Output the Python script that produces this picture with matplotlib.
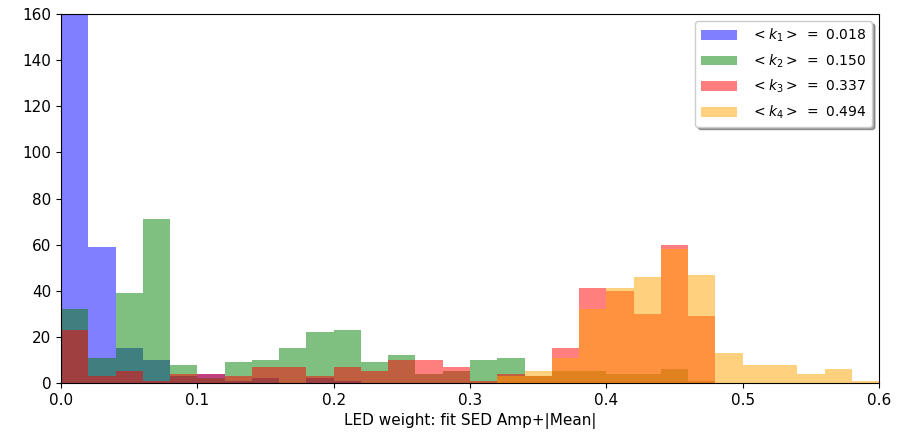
import numpy as np
import matplotlib.pyplot as plt

# histogram counts per 0.02 bin, 0.0 .. 0.6
edges = np.linspace(0.0, 0.6, 31)
k1_counts = [400, 59, 15, 10, 3, 4, 1, 2, 0, 2, 1, 0, 0, 0, 0,
             0, 0, 0, 0, 0, 0, 0, 0, 0, 0, 0, 0, 0, 0, 0]
k2_counts = [32, 11, 39, 71, 8, 2, 9, 10, 15, 22, 23, 9, 12, 4, 5,
             10, 11, 3, 5, 5, 4, 4, 6, 1, 0, 0, 0, 0, 0, 0]
k3_counts = [23, 3, 5, 1, 4, 4, 3, 7, 7, 3, 7, 5, 10, 10, 7,
             1, 4, 3, 15, 41, 40, 30, 60, 29, 0, 0, 0, 0, 0, 0]
k4_counts = [0, 0, 0, 0, 0, 0, 0, 0, 0, 0, 0, 0, 0, 0, 0,
             0, 3, 5, 11, 32, 41, 46, 58, 47, 13, 8, 8, 4, 6, 1]
means = [0.018, 0.150, 0.337, 0.494]
colors = ['blue', 'green', 'red', 'orange']

fig = plt.figure(figsize=(8.97, 4.41), dpi=100)
ax = fig.add_axes([0.068, 0.1315, 0.912, 0.8365])

centers = 0.5 * (edges[:-1] + edges[1:])
for i, counts in enumerate([k1_counts, k2_counts, k3_counts, k4_counts]):
    ax.hist(centers, bins=edges, weights=counts, color=colors[i], alpha=0.5,
            label=r'$<k_{%d}>\ =\ %.3f$' % (i + 1, means[i]))

ax.set_xlim(0.0, 0.6)
ax.set_ylim(0, 160)
ax.tick_params(labelsize=11)
ax.set_xlabel('LED weight: fit SED Amp+|Mean|', fontsize=11)
ax.legend(loc='upper right', shadow=True, fontsize=10, handlelength=2.6,
          labelspacing=0.6, handletextpad=1.0)

fig.savefig('out.png', dpi=100)
